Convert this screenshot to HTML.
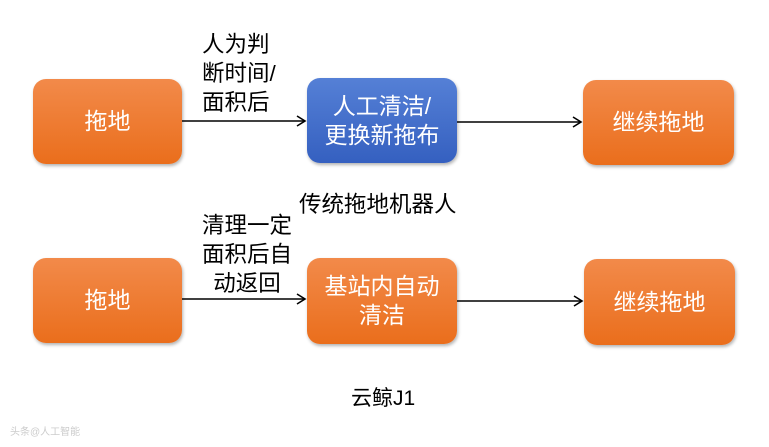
<!DOCTYPE html>
<html><head><meta charset="utf-8"><style>
html,body{margin:0;padding:0;}
body{width:769px;height:447px;background:#fff;position:relative;overflow:hidden;font-family:"Liberation Sans","Noto Sans CJK SC",sans-serif;}
.b{position:absolute;border-radius:13px;color:#fff;display:flex;align-items:center;justify-content:center;text-align:center;font-size:23px;line-height:29px;box-shadow:1px 2px 3px rgba(0,0,0,.3);}
.o{background:linear-gradient(#f28a4a,#ea6e1c);}
.bl{background:linear-gradient(#5580d6,#3560c0);}
.t{position:absolute;font-size:22.5px;line-height:29px;color:#000;white-space:nowrap;}
</style></head><body>
<div class="b o" style="left:33px;top:79px;width:149px;height:85px;">拖地</div>
<div class="b bl" style="left:307px;top:78px;width:150px;height:85px;">人工清洁/<br>更换新拖布</div>
<div class="b o" style="left:583px;top:80px;width:151px;height:85px;">继续拖地</div>
<div class="b o" style="left:33px;top:258px;width:149px;height:85px;">拖地</div>
<div class="b o" style="left:307px;top:258px;width:150px;height:86px;">基站内自动<br>清洁</div>
<div class="b o" style="left:584px;top:259px;width:151px;height:86px;">继续拖地</div>
<svg width="769" height="447" style="position:absolute;left:0;top:0">
<g stroke="#000" stroke-width="1.6" fill="none">
<line x1="182" y1="121" x2="305" y2="121"/><polyline points="297,116 305,121 297,126"/>
<line x1="457" y1="122" x2="581" y2="122"/><polyline points="573,117 581,122 573,127"/>
<line x1="182" y1="299" x2="305" y2="299"/><polyline points="297,294 305,299 297,304"/>
<line x1="457" y1="301" x2="582" y2="301"/><polyline points="574,296 582,301 574,306"/>
</g></svg>
<div class="t" style="left:202px;top:30px;">人为判<br>断时间/<br>面积后</div>
<div class="t" style="left:202px;top:211px;text-align:center;">清理一定<br>面积后自<br>动返回</div>
<div class="t" style="left:299px;top:190px;">传统拖地机器人</div>
<div class="t" style="left:351px;top:384px;font-size:21px;">云鲸J1</div>
<div style="position:absolute;left:10px;top:423px;font-size:10px;color:#ccc;">头条@人工智能</div>
</body></html>
